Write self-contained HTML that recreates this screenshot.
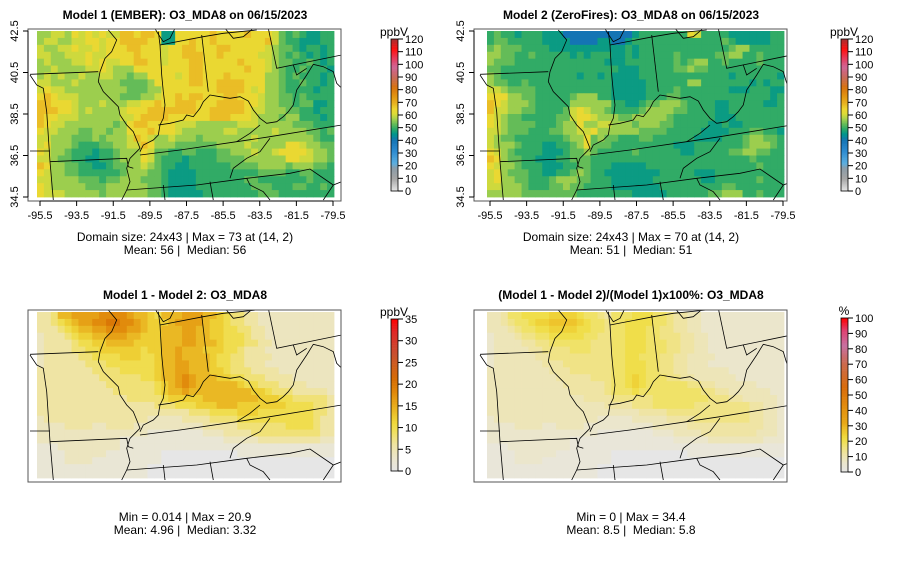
<!DOCTYPE html>
<html><head><meta charset="utf-8"><style>
html,body{margin:0;padding:0;background:#fff;}
svg{display:block;font-family:"Liberation Sans",sans-serif;}
text{white-space:pre;}
</style></head><body>
<svg id="fig" width="900" height="561" viewBox="0 0 900 561"></svg>
<script>
// ---- data (cell codes, 24 rows x 43 cols) ----
const model1Rows = [
"eeffegfgfgffhhghhgbbggggghgggghgggfdcdcbbcc",
"effeeffggfgghhhhggbbgghgghggggggghfdccbbbcc",
"feeffgffgfggghhgggfgghhggghhgggggfeddcbccbc",
"ffeefffgffgggghgggfgghhhgghgggggffedcdcbcbc",
"efeeeffgfgffgghhggfggghhggggghgggfeddccdcbc",
"eefeeeeffgfeeegggggggghhgggggghggfedccdcccb",
"efefeefeeffeedeeggggfghhggghgggggeedcdcccbc",
"ffeeefeeeeeeddddeggggghhgghhhhgggeedccdccbc",
"fgffeeeeeeeeedddeegggggggghhhhgfgeedccccbcc",
"ghgfffeeeeeedddeefgghghhggghhgggfeeddcdcccc",
"hhgggfeeefeeeffgghgghhhggghhhhggfeeddcddbbc",
"hhhggfefeeeefggghhhhhhhgghhhhhgffeeeddccbcc",
"hggfffeeeeeeffghhhhgggggghhhgggfeeedeecccbc",
"hgffeeeeeeedeghhggggfffeeeeeefffeeeeedddccc",
"gffeeeddeedeeggghgggfeeeeeeffeeeeefeeeeddcd",
"ffeeedddedeeefhgfeefeeedeeeeeeefeeeeeeeedcc",
"fgeeedcccddeeffhgeeeddddddeeeefeeeeeggfeedd",
"gfeedcccbccdeeegfddccddcccddeeefeefggggfeed",
"ffeddccbbccdeeegfdcccbccccddddeeeeeeggffeed",
"hgeeddccbbcddeefedccbbccccccddddeeeedeeeddc",
"gfeeddccccccdeeeddcbbbbcccccccccddddccddccc",
"ffeeeedddcddeeedddcbbbbcccccccddcccccccdccc",
"gfeeeeedddeeeeeeddcbbbbccccccccdddcccddccdc",
"gfffeeeeedeeeeeeddcbbbbbccccccccdddcccccccc"];
const model2Rows = [
"cdccbcccbbbaaaaaaaaaabcccccccgfccccbbbbbbcc",
"cddcccccbbbbaaaabbaabcccccccccccccdcbbbbbcc",
"dedddccccbbbbbbbbbbbcbcccccccccccccdeeccccc",
"eeddccdcccccbcbcccbbcbcccccdcccccddeeccdccc",
"edddcccccccccccccbbbcccccccdcdeeccdccccdccc",
"ddcccccccccccccccccbbbcccccddeddccccccccccc",
"edcccccccccccbccbcbbbbcccccccccccccbccccccb",
"eddccdccccccccccccbbbbbcccccceecccccccbcbcc",
"ffeddddcccccccccccbbbbbccccdcccccccbbbcccbb",
"gggeeddcccccdeeeccbbbbbcccddcccccccccccccbc",
"hgfeeedccccceeeeeeccbbcddeeedccccbbcccccbbc",
"hffeeddccccdfgfeedccccdeeeeddccccbbcccccccc",
"gfeddcccccddfggfeeeddeeeeedccccccbbbccccccc",
"gfeddddcccdeegeeffeeedeeeddcccccbbcbbcccccc",
"ffedddcccddeeffgeeeeeeddddcccccbbbbcccddccb",
"feddcccccccdeegdeddcccddccccccbbbbcccdeeddc",
"feeedcccbbccdegdddcccccccccbbbcccccccdeeedc",
"gfedccccbbbcddedcccccdccccccbbcccccddeeddcc",
"hgeddccbbbccdddcccccccccccccccccccccccdcccc",
"gfeedcccbbbccddcccbbbbbccccccccccccccccdccc",
"fgedddccbbccdedccbbbbbbbbcccccbbbcccccccccc",
"fgeeddcccdeeeddcccbbbbbbcccccccbbccccccdccc",
"ffeeedcccddeddccccbbbbbbbcccccccccddccccccc",
"eeeeeddddddddccccccccbbbbbccccccddeeeccdccc"];
const o3CodeValues = {a:40,b:46,c:49.5,d:53,e:56.5,f:60,g:64,h:68,i:72};
const diffRows = [
"3347788889999877657778887765443322222222222",
"3345678899aa998766678888766544332222222222222",
"3334567788999887667778877665544332222222222",
"2333456677888776667778877665554332222222222",
"2333345566777766667778877765554433222222222",
"2333344556666665667787776665543332222222222",
"2333334455556665567787777655443333222222222",
"2333333444555555567788777655443332222222222",
"3333333344445555567788777665444333322222222",
"3333333334444445567789877766554443333222222",
"3333333333444444456789877777765544433332222",
"3333333333344444456778777777777665444333332",
"3333333333333444445666667777777766655444443",
"3333333333333333344455566677766666665555443",
"3333333333333333333333444555566655555555443",
"2333333333333333222223333444455555555555433",
"2222333322333322222222223333344444445555433",
"2222222222222222111111112223333444444444433",
"2222222222221111111111111112222233333333322",
"1112222222221111111111111111111111111111111",
"1111222222111111110000000000011111111111111",
"1111222211111111110000000000000000000000000",
"1111111111111111000000000000000000000000000",
"1111111111111111000000000000000000000000000"];
const pctRows = [
"3346677778888766546667776654433222222222222",
"3345667889999876656677776654433222222222222",
"3334566778888776656677766554433222222222222",
"2333455667777766556677766555443322222222222",
"2333344556666665556677766655443322222222222",
"2333334455556665556677766655443322222222222",
"2333333445555555556677666554433332222222222",
"2333333344455555556677766554433322222222222",
"3333333334445555556677766554433333322222222",
"3333333333444445556678766655443333332222222",
"3333333333344444456678766666655443333332222",
"3333333333334444456667666666666554433333322",
"3333333333333344445555556666666655544333332",
"3333333333333333344445556666665555555544332",
"3333333333333333333333444455555555555544332",
"2333333333333333222223333344445555555544332",
"2222333322333322222222223333344444444444332",
"2222222222222222111111112223333444444443332",
"2222222222221111111111111112222233333333222",
"1112222222221111111111111111111111111111111",
"1111222222111111110000000000011111111111111",
"1111222211111111110000000000000000000000000",
"1111111111111111000000000000000000000000000",
"1111111111111111000000000000000000000000000"];
const diffStep = 2;   // code digit -> ppbV
const pctStep = 3;    // code digit -> %
const xTickLabels = ["-95.5","-93.5","-91.5","-89.5","-87.5","-85.5","-83.5","-81.5","-79.5"];
const yTickLabels = ["42.5","40.5","38.5","36.5","34.5"];
const o3Ticks = [0,10,20,30,40,50,60,70,80,90,100,110,120];
const diffTicks = [0,5,10,15,20,25,30,35];
const pctTicks = [0,10,20,30,40,50,60,70,80,90,100];

// ---- color scales ----
const o3Stops=[[0,"#e8e8e8"],[10,"#a4a4a4"],[18,"#8c9ca8"],[22,"#5aaee0"],[32,"#2c8ad0"],[40,"#1474b4"],[45,"#00968c"],[49,"#2aa868"],[53,"#64bc58"],[57,"#a4d04c"],[61,"#dcdc38"],[65,"#eed630"],[69,"#e8b422"],[74,"#e49a12"],[82,"#d8720e"],[90,"#c86a5c"],[98,"#d06494"],[105,"#e83a5a"],[112,"#ff1010"],[120,"#a83030"]];
const diffStops=[[0,"#e6e6e6"],[3,"#ebe6cc"],[6,"#efe4a4"],[9,"#f0e060"],[11,"#f0da3c"],[13,"#ecc42c"],[15,"#e8ac1c"],[17,"#e49610"],[19,"#de8008"],[21,"#d66e04"],[27,"#c85030"],[32,"#e02828"],[35,"#ff0000"]];
const pctStops=[[0,"#e6e6e6"],[6,"#ebe6cc"],[12,"#efe4a4"],[18,"#f0e268"],[22,"#f0dc40"],[27,"#eec42c"],[32,"#e8a818"],[40,"#e49410"],[55,"#d86c0c"],[70,"#cc6a4c"],[82,"#c870a0"],[92,"#e04070"],[100,"#ff0000"]];
function hex(c){return [1,3,5].map(i=>parseInt(c.substr(i,2),16));}
function colorAt(stops,v){
  if(v<=stops[0][0])return stops[0][1];
  for(let i=1;i<stops.length;i++){
    if(v<=stops[i][0]){const a=stops[i-1],b=stops[i];const t=(v-a[0])/(b[0]-a[0]);
      const ca=hex(a[1]),cb=hex(b[1]);return "rgb("+ca.map((x,k)=>Math.round(x+(cb[k]-x)*t)).join(",")+")";}
  }
  return stops[stops.length-1][1];
}
const NS="http://www.w3.org/2000/svg";
const svg=document.getElementById('fig');
function el(tag,attrs,parent){const e=document.createElementNS(NS,tag);for(const k in attrs)e.setAttribute(k,attrs[k]);(parent||svg).appendChild(e);return e;}
function txt(x,y,s,attrs,parent){const t=el('text',Object.assign({x:x,y:y,'font-size':12,'text-anchor':'middle',fill:'#000'},attrs||{}),parent);t.textContent=s;return t;}

const borderPaths=[
[[0,148],[205,140]],
[[235,15],[260,45],[245,80],[225,100],[210,140],[205,170],[220,200],[250,230],[265,245],[270,270],[290,300],[310,320],[320,345],[330,370],[315,385],[300,400],[290,430],[300,470],[290,495],[275,525]],
[[385,20],[390,60],[395,150],[400,200],[405,240],[400,280],[390,300],[385,330],[370,345],[340,360],[330,380]],
[[385,300],[420,295],[460,285],[470,270],[490,275],[510,250],[520,230],[540,210],[570,215],[600,220],[630,215],[655,228],[670,255],[690,280],[710,295],[740,290],[760,275],[775,260],[790,240],[800,195],[830,150],[850,118],[880,125],[910,140],[920,175],[935,190]],
[[515,30],[535,200]],
[[390,60],[520,35],[580,25],[680,15]],
[[370,0],[380,20],[400,50],[420,40],[435,10]],
[[585,10],[610,40],[640,35],[670,10]],
[[715,10],[740,130],[935,90]],
[[790,120],[800,150],[830,130]],
[[330,390],[450,375],[620,350],[720,335],[935,300]],
[[620,350],[660,325],[690,300]],
[[720,340],[690,380],[650,400],[610,430],[600,460]],
[[290,495],[500,480],[650,460],[780,445],[840,432],[910,480],[935,470]],
[[650,460],[660,480],[700,500],[720,525]],
[[60,410],[290,400],[295,425],[310,430]],
[[0,150],[20,180],[40,190],[50,260],[60,410],[70,525]],
[[0,378],[60,378]],
[[400,480],[405,525]],[[540,470],[550,525]],[[880,525],[910,480]]
];

function panel(o){
  const g=el('g',{});
  
  
  const mx=o.mx,my=o.my,mw=297,mh=166;
  const nc=43,nr=24,cw=mw/nc,ch=mh/nr;
  const cells=el('g',{},g);
  
  
  for(let r=0;r<nr;r++){
    const row=o.rows[r];
    for(let c=0;c<nc;c++){
      const code=row[c]||row[row.length-1];
      const v=o.decode(code);
      const rc=el('rect',{x:(mx+c*cw).toFixed(2),y:(my+r*ch).toFixed(2),width:(cw+0.4).toFixed(2),height:(ch+0.4).toFixed(2),fill:colorAt(o.stops,v)},cells);
      
      
    }
  }
  const cid='clip'+o.name;
  const cp=el('clipPath',{id:cid},g);el('rect',{x:o.bx,y:o.by,width:313,height:172},cp);
  const bg=el('g',{'clip-path':'url(#'+cid+')'},g);
  
  
  for(const p of borderPaths){
    el('polyline',{points:p.map(q=>(q[0]/3+30+o.dx).toFixed(1)+','+(q[1]/3+25+o.dy).toFixed(1)).join(' '),fill:'none',stroke:'#000','stroke-width':0.8},bg);
  }
  const box=el('rect',{x:o.bx,y:o.by,width:313,height:172,fill:'none',stroke:'#555','stroke-width':1},g);
  
  
  const t=txt(o.bx+157,o.ty,o.title,{'font-weight':'bold'},g);
  
  
  if(o.axes){
    const xa=el('g',{},g);
    
    
    const by2=o.by+172;
    el('line',{x1:mx+3,x2:mx+mw-1,y1:by2,y2:by2,stroke:'#000'},xa);
    xTickLabels.forEach((s,i)=>{const x=mx+3+i*(mw-4)/(xTickLabels.length-1);
      el('line',{x1:x,x2:x,y1:by2,y2:by2+5,stroke:'#000'},xa);txt(x,by2+18,s,{'font-size':11},xa);});
    const ya=el('g',{},g);
    
    
    el('line',{x1:o.bx,x2:o.bx,y1:my,y2:my+mh,stroke:'#000'},ya);
    yTickLabels.forEach((s,i)=>{const y=my+i*mh/(yTickLabels.length-1);
      el('line',{x1:o.bx,x2:o.bx-5,y1:y,y2:y,stroke:'#000'},ya);
      txt(o.bx-10,y,s,{'font-size':11,transform:'rotate(-90 '+(o.bx-10)+' '+y+')'},ya);});
  }
  o.sub.forEach((s,i)=>{const st=txt(o.bx+157,o.sy+i*13,s,{},g);
    
    });
  const cb=el('g',{},g);
  
  
  const N=120,x0=o.cbx,y0=o.cby,H=o.cbh,maxv=o.ticks[o.ticks.length-1];
  for(let i=0;i<N;i++){const v=maxv*(i+0.5)/N;
    el('rect',{x:x0,y:(y0+H-(i+1)*H/N).toFixed(2),width:7,height:(H/N+0.3).toFixed(2),fill:colorAt(o.stops,v)},cb);}
  el('rect',{x:x0,y:y0,width:7,height:H,fill:'none',stroke:'#000','stroke-width':0.8},cb);
  o.ticks.forEach(v=>{const y=y0+H-v/maxv*H;
    el('line',{x1:x0+7,x2:x0+12,y1:y,y2:y,stroke:'#000'},cb);
    txt(x0+14,y+4,String(v),{'font-size':11,'text-anchor':'start'},cb);});
  const u=txt(x0+3,y0-3,o.unit,{'font-size':12},cb);
  
  
}
const decO3=c=>o3CodeValues[c];
panel({name:'model1-panel',rows:model1Rows,decode:decO3,stops:o3Stops,mx:37,my:31,bx:28,by:29,dx:0,dy:0,ty:19,
  title:'Model 1 (EMBER): O3_MDA8 on 06/15/2023',axes:true,sy:241,
  sub:['Domain size: 24x43 | Max = 73 at (14, 2)','Mean: 56 |  Median: 56'],
  cbx:391,cby:39,cbh:152,ticks:o3Ticks,unit:'ppbV'});
panel({name:'model2-panel',rows:model2Rows,decode:decO3,stops:o3Stops,mx:487,my:31,bx:474,by:29,dx:450,dy:0,ty:19,
  title:'Model 2 (ZeroFires): O3_MDA8 on 06/15/2023',axes:true,sy:241,
  sub:['Domain size: 24x43 | Max = 70 at (14, 2)','Mean: 51 |  Median: 51'],
  cbx:841,cby:39,cbh:152,ticks:o3Ticks,unit:'ppbV'});
panel({name:'difference-panel',rows:diffRows,decode:c=>parseInt(c,36)*diffStep,stops:diffStops,mx:37,my:312,bx:28,by:310,dx:0,dy:280,ty:299,
  title:'Model 1 - Model 2: O3_MDA8',axes:false,sy:521,
  sub:['Min = 0.014 | Max = 20.9','Mean: 4.96 |  Median: 3.32'],
  cbx:391,cby:319,cbh:152,ticks:diffTicks,unit:'ppbV'});
panel({name:'percent-difference-panel',rows:pctRows,decode:c=>parseInt(c,36)*pctStep,stops:pctStops,mx:487,my:312,bx:474,by:310,dx:450,dy:280,ty:299,
  title:'(Model 1 - Model 2)/(Model 1)x100%: O3_MDA8',axes:false,sy:521,
  sub:['Min = 0 | Max = 34.4','Mean: 8.5 |  Median: 5.8'],
  cbx:841,cby:318,cbh:154,ticks:pctTicks,unit:'%'});
</script>
</body></html>
